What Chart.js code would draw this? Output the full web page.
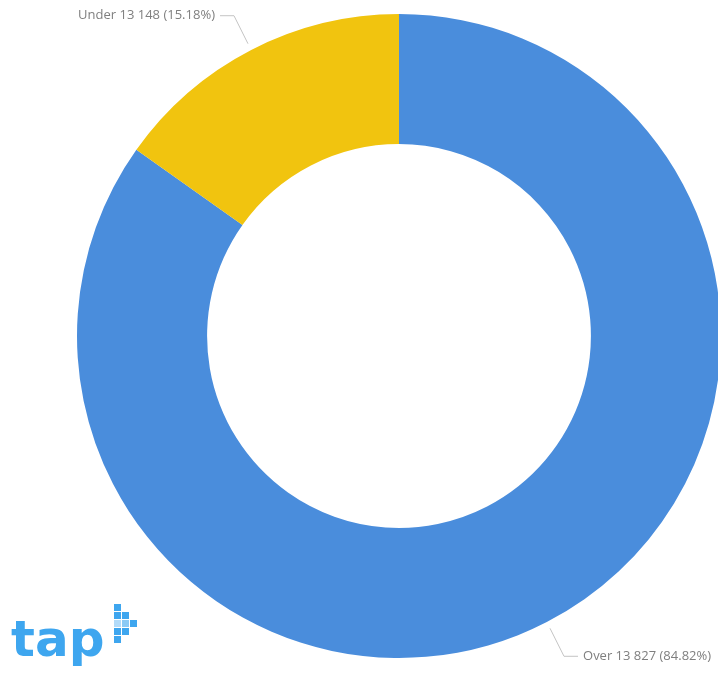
<!DOCTYPE html>
<html>
<head>
<meta charset="utf-8">
<script src="https://cdn.jsdelivr.net/npm/chart.js@4"></script>
<style>
    html, body { margin: 0; padding: 0; background: #fff; }
    #wrap { position: relative; width: 718px; height: 693px; overflow: hidden; }
    #donut { position: absolute; left: 0; top: 0; }
    #logo { position: absolute; left: 11px; top: 614px; font-family: "DejaVu Sans", sans-serif; font-weight: 700;
            font-size: 50px; color: #3ea6ef; letter-spacing: 0px; line-height: 1; }
    .px { position: absolute; width: 7px; height: 7px; background: #3ea6ef; }
</style>
</head>
<body>
<div id="wrap">
    <canvas id="donut" width="730" height="693"></canvas>
    <div id="logo">tap</div>
    <div class="px" style="left:114px;top:604px"></div>
    <div class="px" style="left:114px;top:612px"></div>
    <div class="px" style="left:122px;top:612px"></div>
    <div class="px" style="left:114px;top:620px;opacity:.4"></div>
    <div class="px" style="left:122px;top:620px;opacity:.6"></div>
    <div class="px" style="left:130px;top:620px"></div>
    <div class="px" style="left:114px;top:628px"></div>
    <div class="px" style="left:122px;top:628px"></div>
    <div class="px" style="left:114px;top:636px"></div>
</div>
<script>
const categories = ['Over 13', 'Under 13'];
const counts = [827, 148];
const colors = ['#4a8ddc', '#f1c40f'];

const total = counts.reduce((a, b) => a + b, 0);

// leader lines + labels outside the ring
const outsideLabels = {
    id: 'outsideLabels',
    afterDatasetsDraw(chart) {
        const ctx = chart.ctx;
        const meta = chart.getDatasetMeta(0);
        ctx.save();
        ctx.font = '13px "Open Sans", sans-serif';
        ctx.textBaseline = 'middle';
        meta.data.forEach((arc, i) => {
            const mid = (arc.startAngle + arc.endAngle) / 2;
            const cos = Math.cos(mid), sin = Math.sin(mid);
            const sx = cos < 0 ? -1 : 1, sy = sin < 0 ? -1 : 1;
            const x1 = arc.x + (arc.outerRadius + 7) * cos;
            const y1 = arc.y + (arc.outerRadius + 7) * sin;
            const x2 = x1 + sx * 14, y2 = y1 + sy * 28;
            const x3 = x2 + sx * 14;
            ctx.strokeStyle = '#c4c4c4';
            ctx.lineWidth = 1;
            ctx.beginPath();
            ctx.moveTo(x1, y1);
            ctx.lineTo(x2, y2);
            ctx.lineTo(x3, y2);
            ctx.stroke();
            const pct = (counts[i] / total * 100).toFixed(2);
            const text = categories[i] + ' ' + counts[i] + ' (' + pct + '%)';
            ctx.fillStyle = '#7f7f7f';
            ctx.textAlign = sx < 0 ? 'right' : 'left';
            ctx.fillText(text, x3 + sx * 5, y2);
        });
        ctx.restore();
    }
};

new Chart(document.getElementById('donut'), {
    type: 'doughnut',
    data: {
        labels: categories,
        datasets: [{
            data: counts,
            backgroundColor: colors,
            borderWidth: 0
        }]
    },
    options: {
        responsive: false,
        animation: false,
        cutout: '59.6%',
        layout: { padding: { left: 77, right: 9, top: 14, bottom: 35 } },
        plugins: {
            legend: { display: false },
            tooltip: { enabled: false }
        }
    },
    plugins: [outsideLabels]
});
</script>
</body>
</html>
